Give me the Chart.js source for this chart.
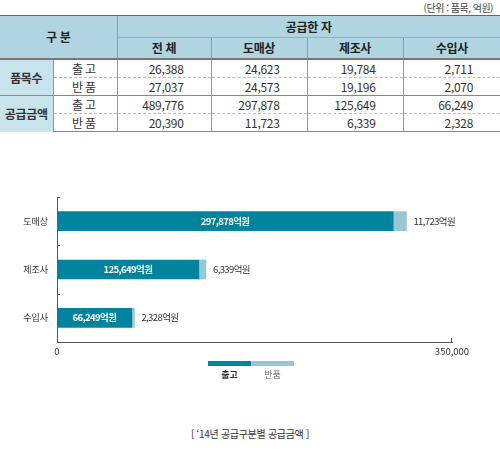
<!DOCTYPE html>
<html lang="ko">
<head>
<meta charset="utf-8">
<script src="https://cdn.jsdelivr.net/npm/chart.js@4"></script>
<style>
  body { margin: 0; width: 500px; height: 450px; background: #fff; position: relative;
         font-family: "Noto Sans CJK KR", "Noto Sans", sans-serif; color: #333; overflow: hidden; }
  #unit { position: absolute; top: 0; right: 7px; font-size: 10px; line-height: 15px; color: #444; letter-spacing: -0.5px; }
  table { position: absolute; top: 15px; left: 0; width: 500px; border-collapse: collapse; table-layout: fixed;
          font-size: 12px; letter-spacing: -0.3px; }
  td, th { padding: 0; line-height: 1; }
  th { background: #b0d5e0; font-weight: bold; color: #222; border-left: 1px solid #8a9ea5; }
  thead tr:first-child th { border-top: 1px solid #666; height: 21px; }
  thead tr:nth-child(2) th { border-top: 1px solid #8fb3bf; height: 20px; }
  thead tr:nth-child(2) th:first-child { border-left: 1px solid #8a9ea5; }
  thead th:first-child { border-left: none; }
  tbody tr:first-child td { border-top: 2px solid #777; }
  tbody td { height: 17px; border-left: 1px solid #999; }
  td.grp { background: #c8e3eb; text-align: center; font-weight: bold; border-left: none; }
  td.sub { text-align: center; letter-spacing: 2px; }
  td.num { text-align: right; padding-right: 27px; }
  tr.r2 td { border-top: 1px dashed #bbb; }
  tr.g2 td { border-top: 1px solid #888; }
  tbody tr:last-child td { border-bottom: 1px solid #888; }
  #wrap { position: absolute; top: 190px; left: 0; width: 500px; height: 180px; }
  .lg { position: absolute; top: 361px; width: 43px; height: 5px; }
  .lt { position: absolute; top: 369px; width: 43px; text-align: center; font-size: 9px; line-height: 12px; }
  #cap { position: absolute; top: 426px; left: 0; width: 500px; text-align: center; font-size: 10px; color: #333; letter-spacing: -0.3px; }
</style>
</head>
<body>
<div id="unit">(단위 : 품목, 억원)</div>
<table id="tbl"></table>
<div id="wrap"><canvas id="c"></canvas></div>
<div class="lg" style="left:208px;background:#00849d"></div>
<div class="lg" style="left:251px;background:#98c6d5"></div>
<div class="lt" style="left:208px;font-weight:bold;color:#333">출고</div>
<div class="lt" style="left:251px;color:#666">반품</div>
<div id="cap">[ ‘14년 공급구분별 공급금액 ]</div>
<script>
// table data
var tableCols = ['전 체', '도매상', '제조사', '수입사'];
var itemsOut = [26388, 24623, 19784, 2711];
var itemsRet = [27037, 24573, 19196, 2070];
var amountOut = [489776, 297878, 125649, 66249];
var amountRet = [20390, 11723, 6339, 2328];

// chart data
var categories = ['도매상', '제조사', '수입사'];
var shipped = [297878, 125649, 66249];
var returned = [11723, 6339, 2328];
var xTicks = [0, 350000];

function fmt(n) { return n.toLocaleString('en-US'); }

// build table
var html = '<colgroup><col style="width:53px"><col style="width:64px"><col style="width:94px">' +
  '<col style="width:96px"><col style="width:96px"><col style="width:97px"></colgroup>';
html += '<thead><tr><th colspan="2" rowspan="2">구 분</th><th colspan="4">공급한 자</th></tr><tr>';
tableCols.forEach(function(c) { html += '<th>' + c + '</th>'; });
html += '</tr></thead><tbody>';
function row(cls, grp, sub, vals) {
  var s = '<tr class="' + cls + '">';
  if (grp) s += '<td class="grp" rowspan="2">' + grp + '</td>';
  s += '<td class="sub">' + sub + '</td>';
  vals.forEach(function(v) { s += '<td class="num">' + fmt(v) + '</td>'; });
  return s + '</tr>';
}
html += row('r1', '품목수', '출고', itemsOut);
html += row('r2', null, '반품', itemsRet);
html += row('g2', '공급금액', '출고', amountOut);
html += row('r2', null, '반품', amountRet);
html += '</tbody>';
document.getElementById('tbl').innerHTML = html;

var FONT = "'Noto Sans CJK KR', 'Noto Sans', sans-serif";

var labelPlugin = {
  id: 'labels',
  afterDatasetsDraw: function(chart) {
    var ctx = chart.ctx;
    ctx.save();
    ctx.textBaseline = 'middle';
    ctx.letterSpacing = '-0.6px';
    var m0 = chart.getDatasetMeta(0), m1 = chart.getDatasetMeta(1);
    m0.data.forEach(function(bar, i) {
      ctx.fillStyle = '#fff';
      ctx.font = 'bold 9.5px ' + FONT;
      ctx.textAlign = 'center';
      ctx.fillText(fmt(shipped[i]) + '억원', (bar.x + bar.base) / 2, bar.y);
      var b1 = m1.data[i];
      ctx.fillStyle = '#333';
      ctx.font = '9.5px ' + FONT;
      ctx.textAlign = 'left';
      ctx.fillText(fmt(returned[i]) + '억원', b1.x + 7, b1.y);
    });
    ctx.restore();
  },
  afterDraw: function(chart) {
    // small inward tick marks
    var ctx = chart.ctx, x = chart.scales.x, y = chart.scales.y;
    ctx.save();
    ctx.strokeStyle = '#555';
    ctx.lineWidth = 1;
    ctx.beginPath();
    var n = categories.length;
    for (var i = 0; i < n; i++) {
      var py = Math.round(y.top + i * y.height / n) + 0.5;
      ctx.moveTo(x.left, py); ctx.lineTo(x.left + 3, py);
    }
    var px = Math.round(x.getPixelForValue(xTicks[1])) - 0.5;
    ctx.moveTo(px, x.top); ctx.lineTo(px, x.top - 4);
    ctx.stroke();
    ctx.restore();
  }
};

new Chart(document.getElementById('c'), {
  type: 'bar',
  data: {
    labels: categories,
    datasets: [
      { label: '출고', data: shipped, backgroundColor: '#00849d', borderWidth: 0, barThickness: 19 },
      { label: '반품', data: returned, backgroundColor: '#98c6d5', borderWidth: 0, barThickness: 19 }
    ]
  },
  options: {
    indexAxis: 'y',
    responsive: true,
    maintainAspectRatio: false,
    animation: false,
    layout: { padding: { top: 7, right: 48, left: 0, bottom: 0 } },
    plugins: { legend: { display: false }, tooltip: { enabled: false } },
    scales: {
      x: {
        stacked: true,
        min: xTicks[0],
        max: xTicks[1],
        afterBuildTicks: function(s) { s.ticks = xTicks.map(function(v) { return { value: v }; }); },
        grid: { display: false, drawTicks: false },
        border: { display: true, color: '#555', width: 1 },
        ticks: { color: '#333', font: { size: 9.5, family: FONT }, padding: 4, maxRotation: 0,
                 callback: function(v) { return fmt(v); } },
        afterFit: function(s) { s.height = 28; s.paddingLeft = 0; s.paddingRight = 0; }
      },
      y: {
        stacked: true,
        grid: { display: false, drawTicks: false },
        border: { display: true, color: '#555', width: 1 },
        ticks: { color: '#333', font: { size: 9, family: FONT }, padding: 9 },
        afterFit: function(s) { s.width = 57; s.paddingTop = 0; s.paddingBottom = 0; }
      }
    }
  },
  plugins: [labelPlugin]
});
</script>
</body>
</html>
